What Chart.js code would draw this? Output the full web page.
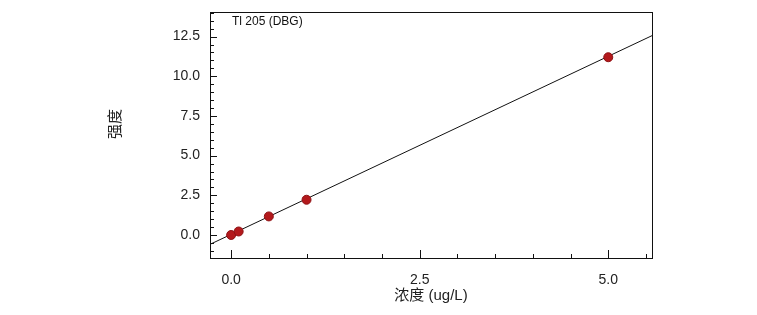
<!DOCTYPE html>
<html>
<head>
<meta charset="utf-8">
<script src="https://cdn.jsdelivr.net/npm/chart.js@4"></script>
<style>
  html, body { margin: 0; padding: 0; background: #fff; }
  #wrap { width: 757px; height: 315px; }
</style>
</head>
<body>
<div id="wrap"><canvas id="myChart"></canvas></div>
<script>
// data
var concentrations = [0.0, 0.1, 0.5, 1.0, 5.0];
var intensities = [0.0, 0.22, 1.17, 2.22, 11.2];
// fitted calibration line, end points at plot edges
var fitX = [-0.28, 5.58];
var fitY = [-0.59, 12.56];
// axes
var xMajorTicks = [0.0, 2.5, 5.0];
var xMinorTicks = [0.5, 1.0, 1.5, 2.0, 3.0, 3.5, 4.0, 4.5, 5.5];
var yMajorTicks = [0.0, 2.5, 5.0, 7.5, 10.0, 12.5];
var yMinorTicks = [-1.0, -0.5, 0.5, 1.0, 1.5, 2.0, 3.0, 3.5, 4.0, 4.5, 5.5, 6.0, 6.5, 7.0, 8.0, 8.5, 9.0, 9.5, 10.5, 11.0, 11.5, 12.0, 13.0, 13.5, 14.0];
var seriesLabel = 'Tl 205 (DBG)';
var xTitle = '浓度 (ug/L)';
var yTitle = '强度';

var fontFam = '"Liberation Sans", Arial, "Noto Sans CJK SC", sans-serif';

//frame, inward tick marks, inner label and y title
var framePlugin = {
    id: 'frame',
    afterDraw: function(chart) {
        var c = chart.ctx, a = chart.chartArea;
        var xs = chart.scales.x, ys = chart.scales.y;
        c.save();
        c.strokeStyle = '#111';
        c.lineWidth = 1;
        c.strokeRect(Math.round(a.left) + 0.5, Math.round(a.top) + 0.5,
            Math.round(a.right - a.left), Math.round(a.bottom - a.top));
        c.beginPath();
        function xt(v, len) {
            var p = Math.round(xs.getPixelForValue(v)) + 0.5;
            c.moveTo(p, a.bottom); c.lineTo(p, a.bottom - len);
        }
        function yt(v, len) {
            var p = Math.round(ys.getPixelForValue(v)) + 0.5;
            if (p < a.top || p > a.bottom) return;
            c.moveTo(a.left, p); c.lineTo(a.left + len, p);
        }
        xMajorTicks.forEach(function(v) { xt(v, 8); });
        xMinorTicks.forEach(function(v) { xt(v, 4); });
        yMajorTicks.forEach(function(v) { yt(v, 7); });
        yMinorTicks.forEach(function(v) { yt(v, 4); });
        c.stroke();
        c.fillStyle = '#111';
        c.font = '12px ' + fontFam;
        c.textBaseline = 'middle';
        c.fillText(seriesLabel, a.left + 22, a.top + 10);
        // y title, sits a bit above the axis middle in the original
        c.fillStyle = '#222';
        c.font = '15px ' + fontFam;
        c.textAlign = 'center';
        c.translate(116, 124);
        c.rotate(-Math.PI / 2);
        c.fillText(yTitle, 0, 0);
        c.restore();
    }
};

var config = {
    type: 'scatter',
    data: {
        datasets: [{
            data: concentrations.map(function(x, i) { return {x: x, y: intensities[i]}; }),
            backgroundColor: '#b3191c',
            borderColor: '#8e1215',
            borderWidth: 1,
            pointRadius: 4.5,
            order: 0
        }, {
            data: fitX.map(function(x, i) { return {x: x, y: fitY[i]}; }),
            showLine: true,
            borderColor: '#111',
            borderWidth: 1,
            pointRadius: 0,
            order: 1
        }]
    },
    options: {
        responsive: true,
        maintainAspectRatio: false,
        animation: false,
        events: [],
        layout: {
            padding: { left: 100, right: 105, top: 12, bottom: 0 }
        },
        plugins: {
            legend: { display: false },
            tooltip: { enabled: false }
        },
        scales: {
            x: {
                type: 'linear',
                min: -0.28,
                max: 5.58,
                afterBuildTicks: function(s) { s.ticks = xMajorTicks.map(function(v) { return {value: v}; }); },
                afterFit: function(s) { s.height = 57; s.paddingLeft = 0; s.paddingRight = 0; },
                grid: { display: false, drawTicks: false },
                border: { display: false },
                ticks: {
                    padding: 14,
                    color: '#222',
                    font: { size: 14, family: fontFam },
                    autoSkip: false,
                    maxRotation: 0,
                    callback: function(v) { return v.toFixed(1); }
                },
                title: {
                    display: true,
                    text: xTitle,
                    color: '#222',
                    font: { size: 15, family: fontFam },
                    padding: { top: 0, bottom: 10 }
                }
            },
            y: {
                type: 'linear',
                min: -1.45,
                max: 14.05,
                afterBuildTicks: function(s) { s.ticks = yMajorTicks.map(function(v) { return {value: v}; }); },
                afterFit: function(s) { s.width = 110; s.paddingTop = 0; s.paddingBottom = 0; },
                grid: { display: false, drawTicks: false },
                border: { display: false },
                ticks: {
                    padding: 10,
                    color: '#222',
                    font: { size: 14, family: fontFam },
                    autoSkip: false,
                    callback: function(v) { return v.toFixed(1); }
                },
                title: { display: false }
            }
        }
    },
    plugins: [framePlugin]
};
var ctx = document.getElementById('myChart').getContext('2d');
var chart = new Chart(ctx, config);
</script>
</body>
</html>
